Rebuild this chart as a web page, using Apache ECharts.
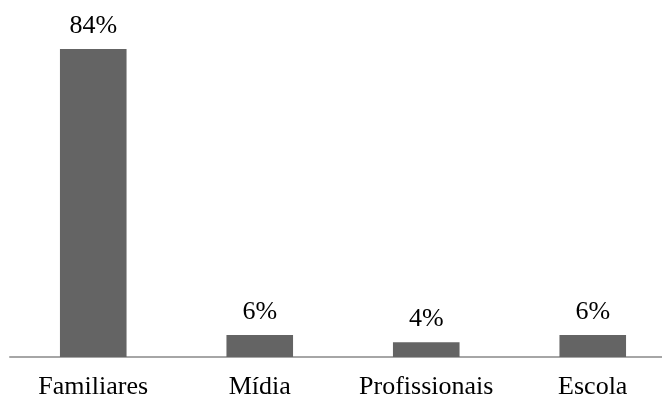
<!DOCTYPE html>
<html>
<head>
<meta charset="utf-8">
<script src="https://cdn.jsdelivr.net/npm/echarts@6/dist/echarts.min.js"></script>
<style>
  html, body { margin: 0; padding: 0; background: #ffffff; overflow: hidden; }
  /* The canvas is wider than the window: the last category band runs past the right edge */
  #chart { width: 676px; height: 400px; }
</style>
</head>
<body>
<div id="chart"></div>
<script>
// Sources of information, share of respondents (%)
const categories = ['Familiares', 'Mídia', 'Profissionais', 'Escola'];
const shares = [84, 6, 4, 6];

const chart = echarts.init(document.getElementById('chart'), null, { renderer: 'canvas' });

const fontFamily = '"Liberation Serif", "Times New Roman", serif';

chart.setOption({
  animation: false,
  backgroundColor: '#ffffff',
  grid: { left: 10, right: 0, top: 27, bottom: 43, containLabel: false },
  xAxis: {
    type: 'category',
    data: categories,
    axisLine: { show: true, lineStyle: { color: '#a6a6a6', width: 2 } },
    axisTick: { show: false },
    axisLabel: { color: '#000000', fontFamily, fontSize: 26, margin: 17, interval: 0 }
  },
  yAxis: {
    type: 'value',
    min: 0,
    max: 90,
    show: false,
    splitLine: { show: false }
  },
  series: [{
    type: 'bar',
    data: shares,
    barWidth: '40%',
    itemStyle: { color: '#646464' },
    label: {
      show: true,
      position: 'top',
      distance: 10,
      color: '#000000',
      fontFamily,
      fontSize: 26,
      formatter: p => p.value + '%'
    }
  }]
});
</script>
</body>
</html>
